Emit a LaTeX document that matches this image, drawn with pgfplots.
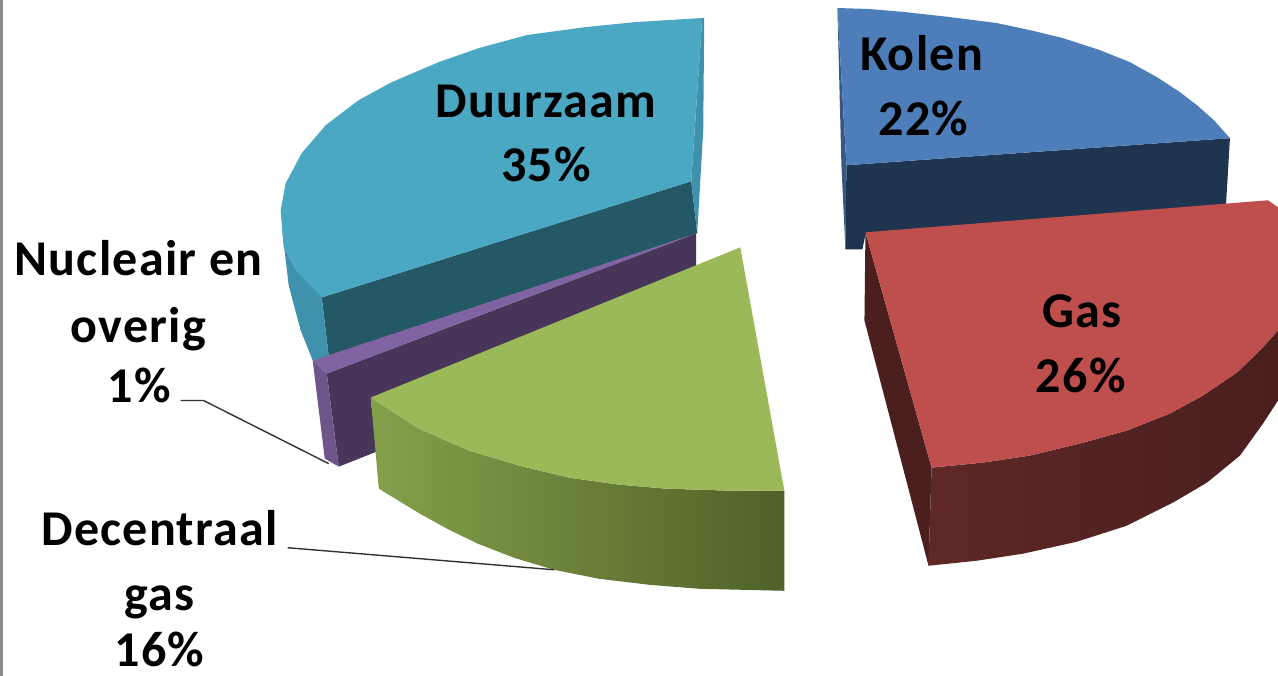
\documentclass[border=0pt]{standalone}
\usepackage{fontspec}
\setmainfont{Carlito}[LetterSpace=2.5]
\usepackage{pgfplots}
\pgfplotsset{compat=1.18}

\definecolor{kolen}{HTML}{4E7EBA}
\definecolor{kolendark}{HTML}{1F344F}
\definecolor{gastop}{HTML}{BE4F4C}
\definecolor{gasdark}{HTML}{4A1F1E}
\definecolor{gasmid}{HTML}{5E2826}
\definecolor{groen}{HTML}{9BB958}
\definecolor{groenl}{HTML}{85A04B}
\definecolor{groend}{HTML}{4F6128}
\definecolor{paars}{HTML}{8064A2}
\definecolor{paarsd}{HTML}{47365A}
\definecolor{teal}{HTML}{4AA8C2}
\definecolor{teald}{HTML}{255866}
\definecolor{tealm}{HTML}{4092AC}

\newcommand{\lab}[3]{\node[anchor=base,inner sep=0pt,font=\fontsize{25}{25}\selectfont\bfseries] at (axis cs:#1,#2) {#3};}

\begin{document}
\begin{tikzpicture}
\begin{axis}[
    scale only axis, width=639pt, height=337.5pt,
    xmin=0, xmax=1278, ymin=0, ymax=675,
    y dir=reverse,
    axis lines=none,
    clip=true,
]
% left frame line
\addplot[color=black!45, line width=1.3pt] coordinates {(3,0)(3,675)};

% Kolen
\addplot[draw=none, fill=kolendark] coordinates {(847,165)(1230,138)(1226,206)(866,234)(863,249)(846,249)} --cycle;
\addplot[draw=none, fill=kolen!70!black] coordinates {(838,8)(847,165)(846,249)(842,165)} --cycle;
\addplot[draw=none, fill=kolen] coordinates {(838,8)(870,9)(905,12)(950,17)(997,23)(1030,30)(1063,38)(1100,50)(1130,62)(1157,77)(1180,92)(1197,105)(1214,120)(1230,138)(847,165)} --cycle;

% Gas
\addplot[draw=none, fill=gasdark] coordinates {(866,232)(932,467)(929,565)(865,320)} --cycle;
\addplot[draw=none, left color=gasmid, right color=gasdark] coordinates {(932,467)(983,462)(1030,455)(1080,443)(1127,430)(1170,413)(1203,395)(1237,372)(1260,350)(1278,330)(1278,400)(1263,423)(1240,455)(1207,482)(1173,502)(1127,525)(1077,541)(1023,553)(977,560)(929,565)} --cycle;
\addplot[draw=none, fill=gastop] coordinates {(866,232)(1268,200)(1278,207)(1278,330)(1260,350)(1237,372)(1203,395)(1170,413)(1127,430)(1080,443)(1030,455)(983,462)(932,467)} --cycle;

% Duurzaam
\addplot[draw=none, fill=teald] coordinates {(323,297)(692,181)(698,233)(330,356)} --cycle;
\addplot[draw=none, fill=tealm] coordinates {(283,225)(323,297)(330,356)(314,360)(302,330)(290,285)} --cycle;
\addplot[draw=none, fill=tealm] coordinates {(703,18)(705,18)(704,130)(698,233)(692,181)} --cycle;
\addplot[draw=none, fill=teal] coordinates {(703,18)(637,22)(587,27)(528,35)(480,48)(440,62)(393,82)(360,100)(327,125)(303,153)(287,183)(282,210)(285,247)(297,270)(323,297)(692,181)} --cycle;

% Nucleair en overig
\addplot[draw=none, fill=paarsd] coordinates {(328,373)(697,233)(697,267)(372,399)(378,451)(340,466)} --cycle;
\addplot[draw=none, fill=paars!85!black] coordinates {(314,360)(328,373)(340,466)(326,458)} --cycle;
\addplot[draw=none, fill=paars] coordinates {(314,360)(697,233)(328,373)} --cycle;

% Decentraal gas
\addplot[draw=none, left color=groenl, right color=groend] coordinates {(372,397)(420,428)(470,450)(520,465)(570,477)(620,484)(667,488)(730,490)(785,490)(785,590)(700,588)(650,584)(600,578)(555,569)(515,557)(479,543)(450,529)(421,513)(380,488)} --cycle;
\addplot[draw=none, fill=groen] coordinates {(372,397)(741,247)(785,490)(730,490)(667,488)(620,484)(570,477)(520,465)(470,450)(420,428)} --cycle;

% leader lines
\addplot[color=black!80, line width=0.7pt] coordinates {(182,400)(205,400)(330,463)};
\addplot[color=black!80, line width=0.7pt] coordinates {(289,547)(555,569)};

\lab{922}{70}{Kolen}
\lab{924}{135}{22\%}
\lab{547}{117}{Duurzaam}
\lab{547}{181}{35\%}
\lab{1082}{327}{Gas}
\lab{1081}{392}{26\%}
\lab{140}{275}{Nucleair en}
\lab{140}{342}{overig}
\lab{141}{402}{1\%}
\lab{161}{545}{Decentraal}
\lab{161}{610}{gas}
\lab{161}{666}{16\%}
\end{axis}
\end{tikzpicture}
\end{document}
